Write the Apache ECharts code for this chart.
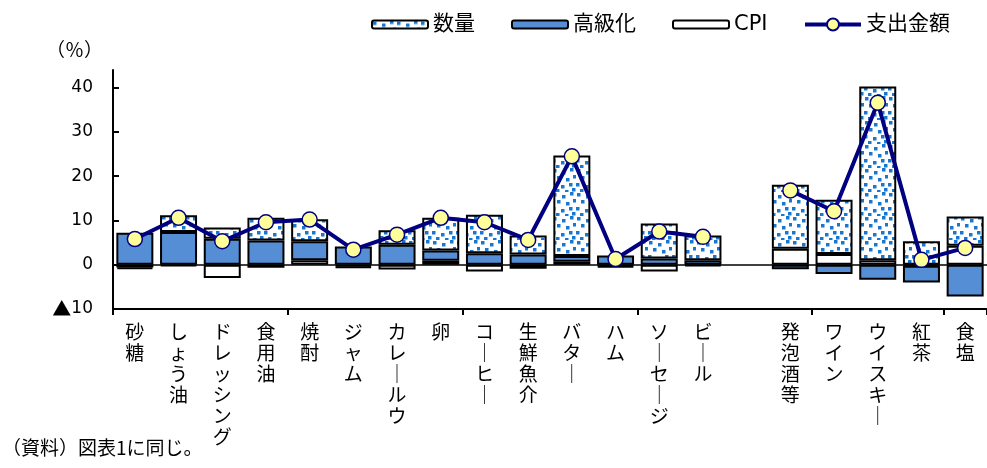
<!DOCTYPE html>
<html>
<head>
<meta charset="utf-8">
<script src="https://cdn.jsdelivr.net/npm/echarts@6/dist/echarts.min.js"></script>
<style>
  html, body { margin: 0; padding: 0; background: #fff; }
  #chart { width: 987px; height: 468px; }
</style>
</head>
<body>
<div id="chart"></div>
<script>
// Items (the empty entry separates the two groups)
const categories = ['砂糖', 'しょう油', 'ドレッシング', '食用油', '焼酎', 'ジャム', 'カレールウ', '卵',
  'コーヒー', '生鮮魚介', 'バター', 'ハム', 'ソーセージ', 'ビール', '',
  '発泡酒等', 'ワイン', 'ウイスキー', '紅茶', '食塩'];

// Contributions to the change in spending (%)
const quantity = [-0.4, 3.8, 2.5, 5.1, 5.0, -0.3, 3.3, 7.4, 8.7, 4.3, 22.7, -0.3, 7.9, 5.6, '-',
  14.5, 12.3, 39.3, 5.3, 6.6];
const upgrade = [7.2, 7.4, 5.9, 5.5, 4.3, 4.1, 4.5, 2.3, 2.6, 2.3, 1.3, 2.1, 1.4, 1.0, '-',
  -1.0, -2.1, -3.4, -3.8, -7.2];
const cpi = [-0.6, -0.3, -3.0, -0.7, 1.0, -0.4, -1.1, 0.9, -1.5, -0.9, 0.7, -0.3, -1.5, -0.3, '-',
  3.6, 2.4, 1.0, -0.2, 4.3];
const spending = [5.8, 10.6, 5.3, 9.6, 10.2, 3.4, 6.8, 10.6, 9.6, 5.6, 24.5, 1.3, 7.5, 6.3, '-',
  16.8, 12.1, 36.6, 1.1, 3.8];

const yTicks = [-10, 0, 10, 20, 30, 40];
const barLegend = ['数量', '高級化', 'CPI'];
const lineLegend = ['支出金額'];

// Speckled fill used for the quantity segments
function speckle() {
  const c = document.createElement('canvas');
  c.width = 24; c.height = 24;
  const g = c.getContext('2d');
  g.fillStyle = '#ffffff';
  g.fillRect(0, 0, 24, 24);
  g.fillStyle = '#1877CF';
  const spots = [[1, 1], [10, 3], [18, 0], [5, 8], [14, 10], [21, 7], [0, 15], [9, 17], [17, 15], [4, 21], [13, 22], [20, 20]];
  spots.forEach(function (p) { g.fillRect(p[0], p[1], 3.5, 3.5); });
  return c;
}

const chart = echarts.init(document.getElementById('chart'), null, { renderer: 'canvas' });
const jpFont = "'DejaVu Sans', 'Noto Sans CJK JP', sans-serif";
const barW = 37;
const navy = '#000080';
const dotFill = '#FFFF99';

chart.setOption({
  animation: false,
  backgroundColor: '#ffffff',
  legend: [
    {
      data: barLegend,
      left: 366,
      top: 9,
      itemWidth: 56,
      itemHeight: 8,
      itemGap: 36,
      textStyle: { fontSize: 21, color: '#000', fontFamily: jpFont }
    },
    {
      data: [{ name: lineLegend[0], lineStyle: { width: 4, color: navy } }],
      left: 798,
      top: 9,
      itemWidth: 56,
      itemHeight: 15,
      textStyle: { fontSize: 21, color: '#000', fontFamily: jpFont }
    }
  ],
  grid: { left: 113, right: -8, top: 70, bottom: 159, containLabel: false },
  xAxis: {
    type: 'category',
    data: categories,
    axisLine: { onZero: false, lineStyle: { color: '#000', width: 2 } },
    axisTick: { show: true, interval: 3, length: 6, lineStyle: { color: '#000', width: 2 } },
    axisLabel: {
      interval: 0,
      margin: 12,
      color: '#000',
      fontSize: 19,
      lineHeight: 21,
      verticalAlign: 'top',
      fontFamily: "'Noto Sans CJK JP', sans-serif",
      formatter: function (v) {
        return v.split('').map(function (ch) { return ch === 'ー' ? '｜' : ch; }).join('\n');
      }
    }
  },
  yAxis: {
    type: 'value',
    min: -10,
    max: 44,
    interval: 10,
    axisLine: { show: true, lineStyle: { color: '#000', width: 2 } },
    axisTick: { show: true, inside: true, length: 6, customValues: yTicks, lineStyle: { color: '#000', width: 2 } },
    axisLabel: {
      customValues: yTicks,
      margin: 20,
      color: '#000',
      fontSize: 17,
      fontFamily: "'DejaVu Sans', sans-serif",
      formatter: function (v) { return v < 0 ? '{t|▲}' + Math.abs(v) : String(v); },
      rich: { t: { fontSize: 19, fontFamily: "'Noto Sans CJK JP', sans-serif", color: '#000' } }
    },
    splitLine: { show: false }
  },
  graphic: [
    { type: 'text', left: 46, top: 40, style: { text: '（％）', font: "19px 'Noto Sans CJK JP'", fill: '#000' } },
    { type: 'text', left: 2, top: 438, style: { text: '（資料）図表1に同じ。', font: "19px 'Noto Sans CJK JP'", fill: '#000' } }
  ],
  series: [
    {
      name: 'CPI', type: 'bar', stack: 'total', barWidth: barW, data: cpi,
      itemStyle: { color: '#ffffff', borderColor: '#000', borderWidth: 2 }
    },
    {
      name: '高級化', type: 'bar', stack: 'total', barWidth: barW, data: upgrade,
      itemStyle: { color: '#558ED5', borderColor: '#000', borderWidth: 2 }
    },
    {
      name: '数量', type: 'bar', stack: 'total', barWidth: barW, data: quantity,
      itemStyle: { color: { image: speckle(), repeat: 'repeat' }, borderColor: '#000', borderWidth: 2 },
      markLine: {
        silent: true, symbol: 'none', label: { show: false },
        lineStyle: { color: '#000', width: 1.5, type: 'solid' },
        data: [{ yAxis: 0 }]
      }
    },
    {
      name: '支出金額', type: 'line', data: spending, z: 5,
      connectNulls: false,
      symbol: 'circle', symbolSize: 15,
      lineStyle: { color: navy, width: 4 },
      itemStyle: { color: dotFill, borderColor: navy, borderWidth: 1.5 }
    }
  ]
});
</script>
</body>
</html>
